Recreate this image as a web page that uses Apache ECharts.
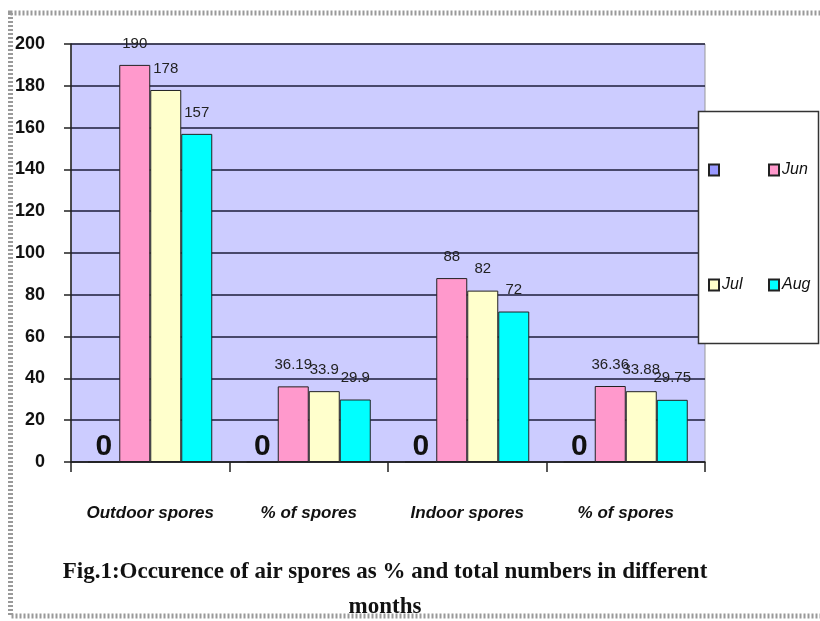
<!DOCTYPE html>
<html>
<head>
<meta charset="utf-8">
<script src="https://cdn.jsdelivr.net/npm/echarts@6/dist/echarts.min.js"></script>
<style>
  html, body { margin: 0; padding: 0; background: #fff; }
  #chart { width: 820px; height: 621px; }
</style>
</head>
<body>
<div id="chart"></div>
<script>
const categories = ['Outdoor spores', '% of spores', 'Indoor spores', '% of spores'];
const seriesNames = [' ', 'Jun', 'Jul', 'Aug'];
const blankVals = [0, 0, 0, 0];
const junVals = [190, 36.19, 88, 36.36];
const julVals = [178, 33.9, 82, 33.88];
const augVals = [157, 29.9, 72, 29.75];
const colors = ['#9999ff', '#ff99cc', '#ffffcc', '#00ffff'];

const myChart = echarts.init(document.getElementById('chart'));

const valueLabel = {
  show: true,
  position: 'top',
  distance: 14,
  color: '#222',
  fontSize: 15,
  fontFamily: 'Liberation Sans Narrow, Liberation Sans, sans-serif'
};

function makeSeries(name, data, color, label) {
  return {
    name: name,
    type: 'bar',
    data: data,
    barWidth: 31,
    barGap: '0%',
    itemStyle: { color: color, borderColor: '#222', borderWidth: 1 },
    label: label
  };
}

// one legend per item so they sit in a 2x2 block like the original
const legendPos = [[708, 162], [768, 162], [708, 277], [768, 277]];
const legends = seriesNames.map((n, i) => ({
  data: [n],
  left: legendPos[i][0],
  top: legendPos[i][1],
  padding: 0,
  icon: 'rect',
  itemWidth: 10,
  itemHeight: 11,
  itemGap: 4,
  z: 20,
  textStyle: {
    color: '#111',
    fontSize: 16,
    fontStyle: 'italic',
    fontFamily: 'Liberation Sans Narrow, Liberation Sans, sans-serif',
    padding: [0, 0, 0, -2]
  }
}));

myChart.setOption({
  backgroundColor: '#fff',
  animation: false,
  title: {
    text: 'Fig.1:Occurence of air spores as % and total numbers in different\nmonths',
    left: 380,
    top: 550,
    textAlign: 'center',
    textStyle: {
      fontFamily: 'Liberation Serif, serif',
      fontWeight: 'bold',
      fontSize: 23,
      lineHeight: 35,
      color: '#111'
    }
  },
  legend: legends,
  graphic: [
    {
      type: 'rect',
      z: 0,
      silent: true,
      shape: { x: 10.5, y: 13, width: 830, height: 603 },
      style: { fill: null, stroke: '#9a9a9a', lineWidth: 5, lineDash: [2, 2] }
    },
    {
      type: 'rect',
      z: 10,
      silent: true,
      shape: { x: 698.5, y: 111.5, width: 120, height: 232 },
      style: { fill: '#fff', stroke: '#333', lineWidth: 1.5 }
    }
  ],
  grid: {
    left: 71,
    top: 44,
    right: 115,
    bottom: 159,
    show: true,
    backgroundColor: '#ccccff',
    borderColor: '#999',
    borderWidth: 1
  },
  xAxis: {
    type: 'category',
    data: categories,
    axisLine: { lineStyle: { color: '#222', width: 1.5 } },
    axisTick: { show: true, interval: 0, length: 10, lineStyle: { color: '#222', width: 1.5 } },
    axisLabel: {
      interval: 0,
      margin: 43,
      color: '#111',
      fontSize: 17,
      fontStyle: 'italic',
      fontWeight: 'bold',
      fontFamily: 'Liberation Sans, sans-serif'
    }
  },
  yAxis: {
    type: 'value',
    min: 0,
    max: 200,
    interval: 20,
    axisLine: { show: true, lineStyle: { color: '#222', width: 1.5 } },
    axisTick: { show: true, length: 7, lineStyle: { color: '#222', width: 1.5 } },
    axisLabel: {
      margin: 26,
      color: '#111',
      fontSize: 18,
      fontWeight: 'bold',
      fontFamily: 'Liberation Sans, sans-serif'
    },
    splitLine: { show: true, lineStyle: { color: '#1c1c3a', width: 1.5 } }
  },
  series: [
    makeSeries(seriesNames[0], blankVals, colors[0], {
      show: true,
      position: 'top',
      distance: 0,
      color: '#111',
      fontSize: 30,
      fontWeight: 'bold',
      fontFamily: 'Liberation Sans, sans-serif'
    }),
    makeSeries(seriesNames[1], junVals, colors[1], valueLabel),
    makeSeries(seriesNames[2], julVals, colors[2], valueLabel),
    makeSeries(seriesNames[3], augVals, colors[3], valueLabel)
  ]
});
</script>
</body>
</html>
